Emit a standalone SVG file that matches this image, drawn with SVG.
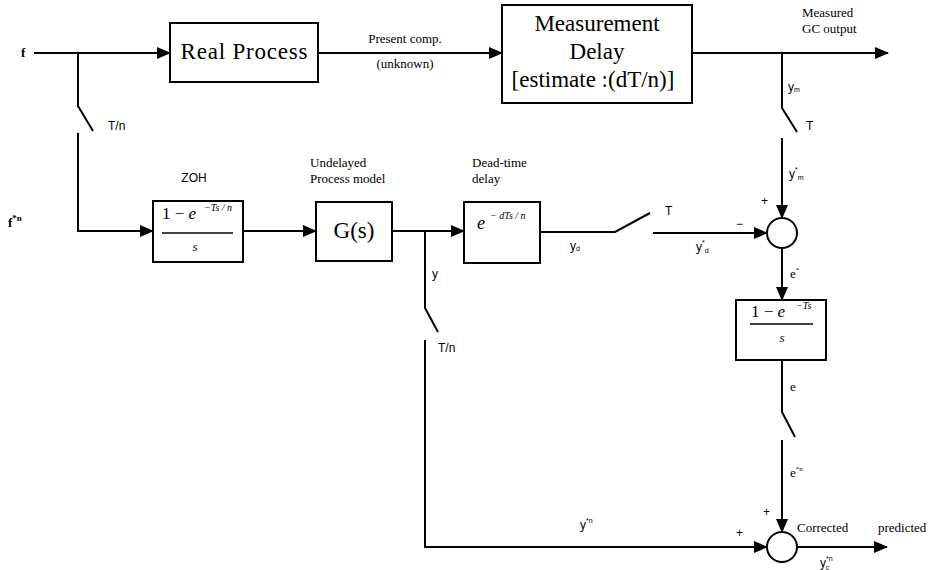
<svg xmlns="http://www.w3.org/2000/svg" width="932" height="570" viewBox="0 0 932 570">
  <defs>
    <marker id="arrow" markerUnits="userSpaceOnUse" markerWidth="14" markerHeight="12" refX="13" refY="6" orient="auto">
      <path d="M0,0 L14,6 L0,12 Z" fill="#000"/>
    </marker>
    <style>
      .box { fill: #fff; stroke: #000; stroke-width: 2; }
      .sum { fill: #fff; stroke: #000; stroke-width: 2; }
      .wire { fill: none; stroke: #000; stroke-width: 2; }
      .arr { marker-end: url(#arrow); }
      .big { font-family: "Liberation Serif", serif; font-size: 23px; fill: #000; }
      .note { font-family: "Liberation Serif", serif; font-size: 13px; fill: #000; }
      .lab { font-family: "Liberation Sans", Arial, sans-serif; font-size: 12px; fill: #000; }
      .sig { font-family: "Liberation Serif", serif; font-size: 13px; fill: #000; }
      .math { font-family: "Liberation Serif", serif; font-style: italic; fill: #000; }
      .frac { stroke: #000; stroke-width: 1.5; }
    </style>
  </defs>

  <!-- signal lines -->
  <g id="connectors">
    <path class="wire arr" d="M34,53 H170"/>
    <path class="wire arr" d="M318,53 H502"/>
    <path class="wire arr" d="M692,53 H888"/>
    <!-- input sampler T/n -->
    <path class="wire" d="M78,53 V106 L93,131"/>
    <path class="wire arr" d="M78,133 V231 H153"/>
    <path class="wire arr" d="M243,231 H316"/>
    <path class="wire arr" d="M392,231 H464"/>
    <!-- sampler T on delayed model output -->
    <path class="wire" d="M540,232 H615 L650,213"/>
    <path class="wire arr" d="M653,233 H767"/>
    <!-- sampler T/n on undelayed model output -->
    <path class="wire" d="M425,231 V308 L438,332"/>
    <path class="wire arr" d="M425,340 V547 H767"/>
    <!-- sampler T on measured output -->
    <path class="wire" d="M782,53 V108 L797,132"/>
    <path class="wire arr" d="M782,138 V218"/>
    <path class="wire arr" d="M782,248 V300"/>
    <!-- error hold output sampler -->
    <path class="wire" d="M782,360 V412 L795,437"/>
    <path class="wire arr" d="M782,440 V532"/>
    <path class="wire arr" d="M797,547 H887"/>
  </g>

  <g id="real-process">
    <rect class="box" x="170" y="23" width="148" height="59"/>
    <text class="big" x="244" y="59" text-anchor="middle" textLength="127">Real Process</text>
  </g>

  <g id="measurement-delay">
    <rect class="box" x="502" y="5" width="190" height="98"/>
    <text class="big" x="597" y="31" text-anchor="middle">Measurement</text>
    <text class="big" x="597" y="59" text-anchor="middle">Delay</text>
    <text class="big" x="593" y="87" text-anchor="middle">[estimate :(dT/n)]</text>
  </g>

  <g id="zoh">
    <rect class="box" x="153" y="201" width="90" height="61"/>
    <text class="math" x="162" y="219" font-size="17"><tspan font-style="normal">1 − </tspan>e</text>
    <text class="math" x="204" y="211" font-size="10">−Ts / n</text>
    <line class="frac" x1="162" y1="233" x2="233" y2="233"/>
    <text class="math" x="195" y="251" font-size="13" text-anchor="middle">s</text>
  </g>

  <g id="process-model">
    <rect class="box" x="316" y="202" width="76" height="59"/>
    <text class="big" x="354" y="238" text-anchor="middle">G(s)</text>
  </g>

  <g id="dead-time">
    <rect class="box" x="464" y="202" width="76" height="61"/>
    <text class="math" x="477" y="229" font-size="18">e</text>
    <text class="math" x="490" y="219" font-size="10">− dTs / n</text>
  </g>

  <g id="error-hold">
    <rect class="box" x="736" y="300" width="90" height="60"/>
    <text class="math" x="751" y="317" font-size="17"><tspan font-style="normal">1 − </tspan>e</text>
    <text class="math" x="796" y="309" font-size="10">−Ts</text>
    <line class="frac" x1="750" y1="324" x2="813" y2="324"/>
    <text class="math" x="782" y="342" font-size="13" text-anchor="middle">s</text>
  </g>

  <g id="error-sum">
    <circle class="sum" cx="782" cy="233" r="15"/>
  </g>

  <g id="output-sum">
    <circle class="sum" cx="782" cy="547" r="15"/>
  </g>

  <!-- annotations -->
  <g id="labels">
    <text class="sig" x="21" y="57" font-weight="bold" font-size="15">f</text>
    <text class="sig" x="8" y="227" font-weight="bold" font-size="14">f<tspan font-size="9" dy="-6">*n</tspan></text>
    <text class="lab" x="108" y="130">T/n</text>
    <text class="note" x="405" y="43" text-anchor="middle" font-size="14">Present comp.</text>
    <text class="note" x="405" y="68" text-anchor="middle" font-size="14">(unknown)</text>
    <text class="note" x="802" y="17" font-size="14">Measured</text>
    <text class="note" x="802" y="33" font-size="14">GC output</text>
    <text class="lab" x="194" y="182" text-anchor="middle" font-size="13">ZOH</text>
    <text class="note" x="310" y="167" font-size="14">Undelayed</text>
    <text class="note" x="310" y="183" font-size="14">Process model</text>
    <text class="note" x="472" y="167" font-size="14">Dead-time</text>
    <text class="note" x="472" y="183" font-size="14">delay</text>
    <text class="lab" x="432" y="278">y</text>
    <text class="lab" x="438" y="352">T/n</text>
    <text class="lab" x="570" y="250">y<tspan font-size="7" dy="1">d</tspan></text>
    <text class="lab" x="665" y="215">T</text>
    <text class="lab" x="696" y="251">y<tspan font-size="7" dy="-6">*</tspan><tspan font-size="7" dy="8">d</tspan></text>
    <text class="lab" x="736" y="228">−</text>
    <text class="lab" x="761" y="205" font-size="11">+</text>
    <text class="lab" x="788" y="91">y<tspan font-size="7" dy="1">m</tspan></text>
    <text class="lab" x="806" y="130">T</text>
    <text class="lab" x="789" y="178">y<tspan font-size="7" dy="-6">*</tspan><tspan font-size="7" dy="8">m</tspan></text>
    <text class="sig" x="790" y="278">e<tspan font-size="7" dy="-6">*</tspan></text>
    <text class="sig" x="790" y="391">e</text>
    <text class="sig" x="790" y="477">e<tspan font-size="7" dy="-6">*n</tspan></text>
    <text class="lab" x="763" y="516" font-size="11">+</text>
    <text class="lab" x="736" y="537" font-size="11">+</text>
    <text class="lab" x="580" y="529">y<tspan font-size="7" dy="-6">*n</tspan></text>
    <text class="note" x="797" y="532" font-size="14">Corrected</text>
    <text class="note" x="878" y="532" font-size="14">predicted</text>
    <text class="lab" x="820" y="567">y<tspan font-size="7" dy="-6">*n</tspan><tspan font-size="7" dy="9" dx="-7">c</tspan></text>
  </g>
</svg>
